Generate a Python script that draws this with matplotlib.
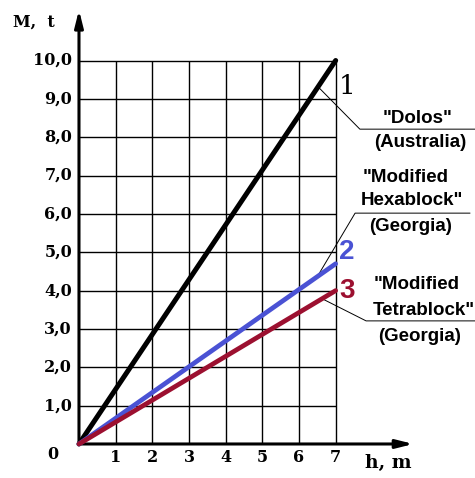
import matplotlib
matplotlib.use('Agg')
import matplotlib.pyplot as plt
import numpy as np

# data
h = [0, 7]
dolos = [0, 10.0]
hexablock = [0, 4.7]
tetrablock = [0, 4.0]
x_ticks = [1, 2, 3, 4, 5, 6, 7]
y_ticks = [1, 2, 3, 4, 5, 6, 7, 8, 9, 10]
y_labels = ["1,0", "2,0", "3,0", "4,0", "5,0", "6,0", "7,0", "8,0", "9,0", "10,0"]

blue = "#4a52d4"
red = "#9c1030"

fig = plt.figure(figsize=(4.75, 4.78), dpi=100)
ax = fig.add_axes([0, 0, 1, 1])
ax.set_xlim(-2.154, 10.80)
ax.set_ylim(-0.887, 11.578)
ax.axis('off')

# grid
ax.vlines(x_ticks, 0, 10, color="black", lw=1.0, zorder=1)
ax.hlines(y_ticks, 0, 7, color="black", lw=1.0, zorder=1)

# axes with arrows
ax.annotate("", xy=(9.12, 0), xytext=(0, 0),
            arrowprops=dict(arrowstyle="-|>,head_length=1.0,head_width=0.25",
                            color="black", lw=2.2, shrinkA=0, shrinkB=0), zorder=3)
ax.annotate("", xy=(0, 11.32), xytext=(0, 0),
            arrowprops=dict(arrowstyle="-|>,head_length=1.0,head_width=0.25",
                            color="black", lw=2.2, shrinkA=0, shrinkB=0), zorder=3)

# series
ax.plot(h, dolos, color="black", lw=3.6, solid_capstyle="round", zorder=4)
ax.plot(h, hexablock, color=blue, lw=3.4, solid_capstyle="round", zorder=4)
ax.plot(h, tetrablock, color=red, lw=3.4, solid_capstyle="round", zorder=5)

# tick labels
tick_font = dict(family="DejaVu Serif", fontweight="bold", fontsize=11.5)
for v, lab in zip(y_ticks, y_labels):
    ax.text(-0.19, v, lab, ha="right", va="center", **tick_font)
for v in x_ticks:
    ax.text(v, -0.36, str(v), ha="center", va="center", **tick_font)
ax.text(-0.72, -0.28, "0", ha="center", va="center", **tick_font)
ax.text(-1.22, 10.99, "M,  t", ha="center", va="center", **tick_font)
ax.text(8.43, -0.5, "h, m", ha="center", va="center",
        family="DejaVu Serif", fontweight="bold", fontsize=13.5)

# curve numbers
ax.text(7.31, 9.31, "1", ha="center", va="center", family="DejaVu Serif",
        fontsize=19, color="black")
ax.text(7.3, 5.0, "2", ha="center", va="center", family="Liberation Sans",
        fontweight="bold", fontsize=20, color=blue)
ax.text(7.3, 4.0, "3", ha="center", va="center", family="Liberation Sans",
        fontweight="bold", fontsize=20, color=red)

# annotations
ann_font = dict(family="Liberation Sans", fontweight="bold", fontsize=13.5,
                ha="center", va="center")
x1 = 6.52
ax.plot([x1, 7.66, 10.8], [x1 * 10 / 7, 8.21, 8.21], color="black", lw=0.7, zorder=2)
ax.text(9.24, 8.48, '"Dolos"', **ann_font)
ax.text(9.3, 7.86, "(Australia)", **ann_font)

x2 = 6.5
ax.plot([x2, 7.53, 10.66], [x2 * 4.7 / 7, 6.02, 6.02], color="black", lw=0.7, zorder=2)
ax.text(8.92, 6.96, '"Modified', **ann_font)
ax.text(9.07, 6.34, 'Hexablock"', **ann_font)
ax.text(9.03, 5.68, "(Georgia)", **ann_font)

x3 = 6.63
ax.plot([x3, 7.83, 10.8], [x3 * 4.0 / 7, 3.21, 3.21], color="black", lw=0.7, zorder=2)
ax.text(9.2, 4.15, '"Modified', **ann_font)
ax.text(9.4, 3.49, 'Tetrablock"', **ann_font)
ax.text(9.28, 2.79, "(Georgia)", **ann_font)

plt.savefig("out.png", dpi=100)
plt.close()
